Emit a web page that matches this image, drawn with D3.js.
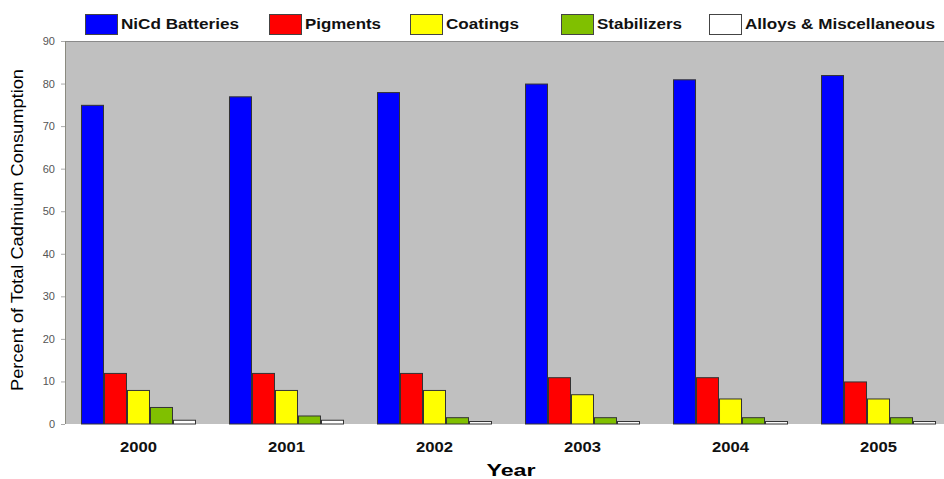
<!DOCTYPE html>
<html>
<head>
<meta charset="utf-8">
<script src="https://cdn.jsdelivr.net/npm/d3@7"></script>
<style>
  body { margin: 0; background: #fff; }
  text { font-family: Arial, "Liberation Sans", sans-serif; }
</style>
</head>
<body>
<div id="chart"></div>
<script>
// Chart data
const years = ["2000", "2001", "2002", "2003", "2004", "2005"];
const seriesNames = ["NiCd Batteries", "Pigments", "Coatings", "Stabilizers", "Alloys & Miscellaneous"];
const nicd = [75, 77, 78, 80, 81, 82];
const pigments = [12, 12, 12, 11, 11, 10];
const coatings = [8, 8, 8, 7, 6, 6];
const stabilizers = [4, 2, 1.6, 1.6, 1.6, 1.6];
const alloys = [1, 1, 0.7, 0.7, 0.7, 0.7];
const yTicks = [0, 10, 20, 30, 40, 50, 60, 70, 80, 90];

const colors = ["#0000ff", "#ff0000", "#ffff00", "#80c000", "#ffffff"];
const values = [nicd, pigments, coatings, stabilizers, alloys];

const width = 944;
const height = 479;

const svg = d3.select("#chart").append("svg")
    .attr("width", width)
    .attr("height", height);

// Plot area
const plotLeft = 65, plotRight = 952, plotTop = 41, plotBottom = 424;

const x = d3.scaleBand()
    .domain(years)
    .range([plotLeft, plotRight])
    .paddingInner(0.223)
    .paddingOuter(0.108);

const xs = d3.scaleBand()
    .domain(seriesNames)
    .range([0, x.bandwidth()]);

const y = d3.scaleLinear()
    .domain([0, 90])
    .range([plotBottom, plotTop]);

// Gray background
svg.append("rect")
    .attr("x", plotLeft)
    .attr("y", plotTop)
    .attr("width", plotRight - plotLeft)
    .attr("height", plotBottom - plotTop)
    .attr("fill", "#c0c0c0");

svg.append("line")
    .attr("x1", plotLeft).attr("x2", plotRight)
    .attr("y1", plotTop + 0.5).attr("y2", plotTop + 0.5)
    .attr("stroke", "#8a8a8a");

svg.append("line")
    .attr("x1", plotLeft + 0.5).attr("x2", plotLeft + 0.5)
    .attr("y1", plotTop).attr("y2", plotBottom)
    .attr("stroke", "#8a8a80");

// Y axis
const yAxis = svg.append("g")
    .attr("transform", `translate(${plotLeft},0)`)
    .call(d3.axisLeft(y).tickValues(yTicks).tickSize(4).tickPadding(6));
yAxis.select(".domain").remove();
yAxis.selectAll(".tick line").attr("stroke", "#aaa");
yAxis.selectAll(".tick text")
    .attr("fill", "#555")
    .style("font-size", "11px")
    .style("font-family", "Arial, 'Liberation Sans', sans-serif");

// Bars
const groups = svg.append("g")
    .selectAll("g")
    .data(years)
    .enter().append("g")
    .attr("transform", d => `translate(${x(d)},0)`);

groups.selectAll("rect")
    .data((d, i) => seriesNames.map((s, j) => ({ series: s, idx: j, value: values[j][i] })))
    .enter().append("rect")
    .attr("x", d => xs(d.series) + 0.5)
    .attr("y", d => y(d.value) + 0.5)
    .attr("width", xs.bandwidth() - 1)
    .attr("height", d => plotBottom - y(d.value) - 0.5)
    .attr("fill", d => colors[d.idx])
    .attr("stroke", "#333")
    .attr("stroke-width", 1);

// X labels
svg.append("g")
    .selectAll("text")
    .data(years)
    .enter().append("text")
    .attr("x", d => x(d) + x.bandwidth() / 2)
    .attr("y", 452)
    .attr("text-anchor", "middle")
    .attr("textLength", 37)
    .attr("lengthAdjust", "spacingAndGlyphs")
    .style("font-size", "14px")
    .style("font-weight", "bold")
    .attr("fill", "#111")
    .text(d => d);

svg.append("text")
    .attr("x", 511)
    .attr("y", 476)
    .attr("text-anchor", "middle")
    .attr("textLength", 49)
    .attr("lengthAdjust", "spacingAndGlyphs")
    .style("font-size", "17px")
    .style("font-weight", "bold")
    .text("Year");

svg.append("text")
    .attr("transform", "translate(23,230) rotate(-90)")
    .attr("text-anchor", "middle")
    .attr("textLength", 322)
    .attr("lengthAdjust", "spacingAndGlyphs")
    .style("font-size", "16px")
    .text("Percent of Total Cadmium Consumption");

// Legend
const legendX = [85, 269, 410, 561, 709];
const legendTextW = [118, 76, 73, 85, 190];
const legend = svg.append("g")
    .selectAll("g")
    .data(seriesNames)
    .enter().append("g")
    .attr("transform", (d, i) => `translate(${legendX[i]},14)`);

legend.append("rect")
    .attr("x", 0.5).attr("y", 0.5)
    .attr("width", 32).attr("height", 20)
    .attr("fill", (d, i) => colors[i])
    .attr("stroke", "#444");

legend.append("text")
    .attr("x", 36)
    .attr("y", 15)
    .attr("textLength", (d, i) => legendTextW[i])
    .attr("lengthAdjust", "spacingAndGlyphs")
    .style("font-size", "14px")
    .style("font-weight", "bold")
    .attr("fill", "#111")
    .text(d => d);
</script>
</body>
</html>
